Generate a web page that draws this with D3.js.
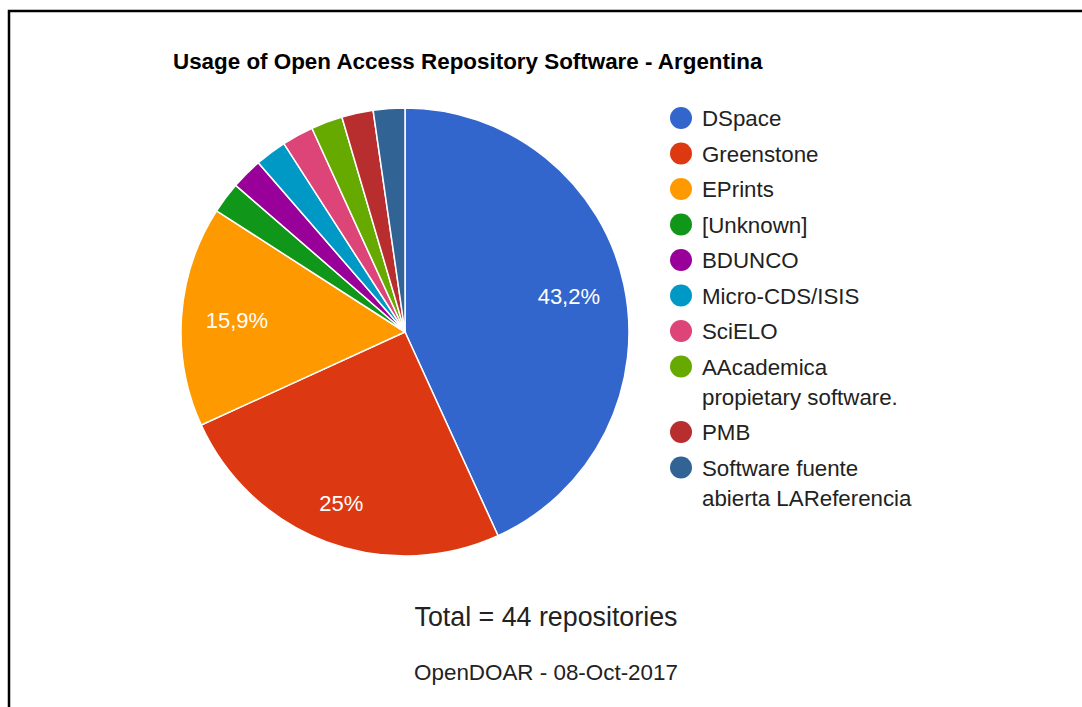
<!DOCTYPE html>
<html>
<head>
<meta charset="utf-8">
<script src="https://cdn.jsdelivr.net/npm/d3@7"></script>
<style>
  html, body { margin: 0; padding: 0; background: #fff; }
  svg { display: block; font-family: "Liberation Sans", Arial, sans-serif; }
</style>
</head>
<body>
<svg id="chart" width="1082" height="707"></svg>
<script>
const categories = ["DSpace", "Greenstone", "EPrints", "[Unknown]", "BDUNCO", "Micro-CDS/ISIS", "SciELO", "AAcademica propietary software.", "PMB", "Software fuente abierta LAReferencia"];
const counts = [19, 11, 7, 1, 1, 1, 1, 1, 1, 1];
const colors = ["#3366cc", "#dc3912", "#ff9900", "#109618", "#990099", "#0099c6", "#dd4477", "#66aa00", "#b82e2e", "#316395"];
const title = "Usage of Open Access Repository Software - Argentina";
const totalText = "Total = 44 repositories";
const sourceText = "OpenDOAR - 08-Oct-2017";

const svg = d3.select("#chart");

// frame
svg.append("path")
  .attr("d", "M9,1100 L9,11 L1100,11")
  .attr("fill", "none").attr("stroke", "#000").attr("stroke-width", 2.5);

svg.append("text")
  .attr("x", 173).attr("y", 69)
  .attr("font-size", 22.4).attr("font-weight", "bold").attr("fill", "#000")
  .text(title);

const cx = 405, cy = 332, R = 224;
const total = d3.sum(counts);
const pie = d3.pie().sort(null).value(d => d)(counts);
const arc = d3.arc().innerRadius(0).outerRadius(R);
const color = d3.scaleOrdinal().domain(categories).range(colors);

const g = svg.append("g").attr("transform", `translate(${cx},${cy})`);
g.selectAll("path.slice").data(pie).join("path")
  .attr("class", "slice")
  .attr("d", arc)
  .attr("fill", (d, i) => color(categories[i]))
  .attr("stroke", "#fff").attr("stroke-width", 1.5);

const fmt = v => {
  const p = Math.round(v / total * 1000) / 10;
  return String(p).replace(".", ",") + "%";
};
const labels = g.selectAll("text.pct").data(pie.filter(d => d.value / total > 0.05)).join("text")
  .attr("class", "pct")
  .attr("text-anchor", "middle").attr("dy", "0.36em")
  .attr("font-size", 22).attr("fill", "#fff")
  .text(d => fmt(d.value));
labels.each(function(d) {
  const a = (d.startAngle + d.endAngle) / 2;
  const u = Math.sin(a), v = -Math.cos(a);
  const w = this.getComputedTextLength(), h = 22;
  const dist = 0.895 * R - (Math.abs(u) * w / 2 + Math.abs(v) * h / 2);
  d3.select(this).attr("transform", `translate(${u * dist},${v * dist})`);
});

// legend
const lg = svg.append("g");
let y = 118;
categories.forEach((c, i) => {
  lg.append("circle").attr("cx", 681).attr("cy", y).attr("r", 11).attr("fill", color(c));
  const t = lg.append("text").attr("x", 702).attr("y", y)
    .attr("font-size", 22.3).attr("fill", "#222");
  const words = c.split(" ");
  let lines = [], cur = "";
  const probe = lg.append("text").attr("font-size", 22.3);
  words.forEach(w => {
    const test = cur ? cur + " " + w : w;
    probe.text(test);
    if (probe.node().getComputedTextLength() > 218 && cur) { lines.push(cur); cur = w; }
    else cur = test;
  });
  lines.push(cur);
  probe.remove();
  lines.forEach((ln, k) => {
    t.append("tspan").attr("x", 702).attr("dy", k === 0 ? "0.36em" : 30).text(ln);
  });
  y += 35.5 + 30 * (lines.length - 1);
});

svg.append("text").attr("x", 546).attr("y", 626).attr("text-anchor", "middle")
  .attr("font-size", 26.8).attr("fill", "#222").text(totalText);
svg.append("text").attr("x", 546).attr("y", 680).attr("text-anchor", "middle")
  .attr("font-size", 22.4).attr("fill", "#222").text(sourceText);
</script>
</body>
</html>
